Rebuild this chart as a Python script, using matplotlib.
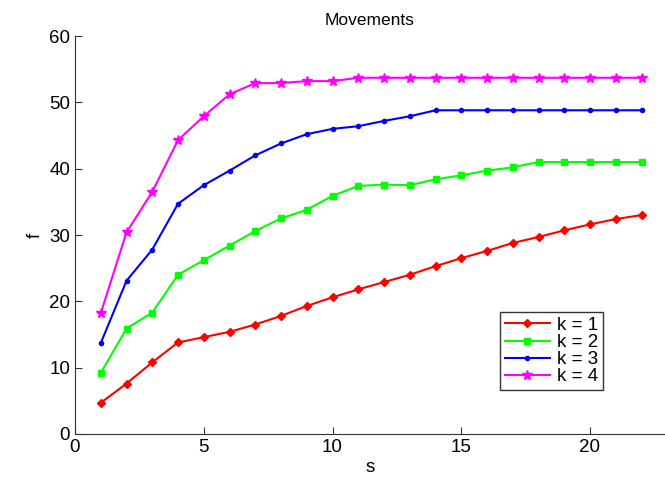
import matplotlib
matplotlib.use("Agg")
import matplotlib.pyplot as plt

plt.rcParams['font.family'] = ['Liberation Sans', 'DejaVu Sans']

s = list(range(1, 23))
k1 = [4.7, 7.6, 10.8, 13.8, 14.6, 15.4, 16.5, 17.8, 19.3, 20.6, 21.8, 22.9, 24.0, 25.3, 26.5, 27.6, 28.8, 29.7, 30.7, 31.6, 32.4, 33.0]
k2 = [9.2, 15.9, 18.3, 24.0, 26.2, 28.4, 30.6, 32.5, 33.8, 35.9, 37.4, 37.6, 37.5, 38.4, 39.0, 39.7, 40.2, 41.0, 41.0, 41.0, 41.0, 41.0]
k3 = [13.7, 23.1, 27.8, 34.7, 37.5, 39.7, 42.0, 43.8, 45.2, 46.0, 46.4, 47.2, 47.9, 48.8, 48.8, 48.8, 48.8, 48.8, 48.8, 48.8, 48.8, 48.8]
k4 = [18.2, 30.4, 36.5, 44.3, 47.9, 51.2, 52.9, 52.9, 53.2, 53.2, 53.7, 53.7, 53.7, 53.7, 53.7, 53.7, 53.7, 53.7, 53.7, 53.7, 53.7, 53.7]
labels = ['k = 1', 'k = 2', 'k = 3', 'k = 4']

fig = plt.figure(figsize=(6.65, 4.88), dpi=100)
ax = fig.add_axes([75/665, 1-434/488, 1-75/665, (434-36)/488])

ax.plot(s, k1, color='#ff0000', marker='D', markersize=4, lw=1.5, label=labels[0])
ax.plot(s, k2, color='#00ff00', marker='s', markersize=5, lw=1.5, label=labels[1])
ax.plot(s, k3, color='#0000ff', marker='o', markersize=3, lw=1.5, label=labels[2])
ax.plot(s, k4, color='#ff00ff', marker='*', markersize=7, lw=1.5, label=labels[3])

ax.set_xlim(0, (665-75)/25.75)
ax.set_ylim(0, 60)
ax.set_xticks([0, 5, 10, 15, 20])
ax.set_yticks([0, 10, 20, 30, 40, 50, 60])
ax.spines['top'].set_visible(False)
ax.spines['right'].set_visible(False)
for sp in ('left', 'bottom'):
    ax.spines[sp].set_color('#333333')
ax.tick_params(direction='in', labelsize=13.5, length=5, colors='#333333', labelcolor='black')
ax.set_xlabel('s', fontsize=13.5, labelpad=2)
ax.set_ylabel('f', fontsize=13.5)
ax.set_title('Movements', fontsize=12.5, pad=8)

leg = ax.legend(loc='lower left', bbox_to_anchor=((500-75)/590, (434-390)/398),
                fontsize=13.5, frameon=True, fancybox=False, edgecolor='black',
                handlelength=2.4, borderpad=0.25, labelspacing=0.0, handletextpad=0.4,
                borderaxespad=0)
leg.get_frame().set_linewidth(1.0)

fig.savefig('out.png', dpi=100)
